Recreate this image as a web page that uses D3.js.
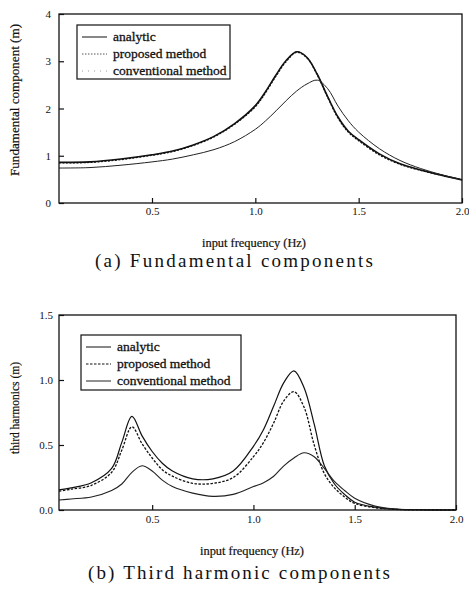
<!DOCTYPE html>
<meta charset="utf-8">
<style>
body { margin: 0; background: #fff; }
svg { display: block; }
text { font-family: "Liberation Serif", "DejaVu Serif", serif; fill: #111; }
.tick text { font-size: 11px; }
.legend text { font-size: 13.5px; stroke: #111; stroke-width: 0.3px; }
</style>
<script src="https://d3js.org/d3.v7.min.js"></script>
<div id="chart"></div>
<script>

// (a) fundamental components
var freqA = [0.05, 0.2, 0.35, 0.5, 0.6, 0.7, 0.8, 0.9, 1.0, 1.05, 1.1, 1.15, 1.2, 1.25, 1.3, 1.35, 1.4, 1.45, 1.5, 1.6, 1.7, 1.8, 1.9, 2.0];
var analyticA = [0.86, 0.87, 0.93, 1.02, 1.10, 1.23, 1.41, 1.68, 2.06, 2.36, 2.71, 3.02, 3.20, 3.08, 2.72, 2.25, 1.82, 1.52, 1.34, 1.04, 0.83, 0.70, 0.59, 0.49];
var proposedA = [0.85, 0.86, 0.92, 1.01, 1.09, 1.22, 1.40, 1.67, 2.04, 2.34, 2.69, 3.00, 3.19, 3.07, 2.71, 2.24, 1.80, 1.50, 1.32, 1.02, 0.82, 0.69, 0.59, 0.49];
var conventionalA = [0.74, 0.75, 0.80, 0.87, 0.93, 1.02, 1.13, 1.30, 1.56, 1.74, 1.95, 2.17, 2.37, 2.52, 2.60, 2.42, 2.05, 1.74, 1.50, 1.15, 0.90, 0.73, 0.60, 0.49];

// (b) third harmonic components
var freqB = [0.04, 0.1, 0.2, 0.3, 0.35, 0.4, 0.45, 0.5, 0.55, 0.6, 0.7, 0.8, 0.9, 1.0, 1.05, 1.1, 1.15, 1.2, 1.25, 1.3, 1.35, 1.4, 1.45, 1.5, 1.6, 1.7, 1.8, 2.0];
var analyticB = [0.155, 0.17, 0.21, 0.32, 0.52, 0.72, 0.57, 0.45, 0.36, 0.30, 0.24, 0.24, 0.30, 0.49, 0.62, 0.80, 0.98, 1.07, 0.94, 0.66, 0.34, 0.20, 0.12, 0.06, 0.022, 0.006, 0.002, 0];
var proposedB = [0.145, 0.16, 0.19, 0.29, 0.46, 0.64, 0.51, 0.40, 0.31, 0.26, 0.205, 0.205, 0.25, 0.41, 0.52, 0.67, 0.84, 0.91, 0.79, 0.50, 0.28, 0.17, 0.10, 0.05, 0.018, 0.005, 0.001, 0];
var conventionalB = [0.077, 0.085, 0.10, 0.15, 0.20, 0.29, 0.34, 0.30, 0.23, 0.18, 0.13, 0.105, 0.12, 0.18, 0.21, 0.26, 0.34, 0.40, 0.44, 0.41, 0.32, 0.22, 0.15, 0.09, 0.03, 0.008, 0.002, 0];

var legendNames = ["analytic", "proposed method", "conventional method"];
var xTicks = [0.5, 1.0, 1.5, 2.0];
var yTicksA = [0, 1, 2, 3, 4];
var yTicksB = [0, 0.5, 1.0, 1.5];

var svg = d3.select("#chart").append("svg")
  .attr("width", 469)
  .attr("height", 592);

// draws one panel
function panel(cfg) {
  var x = d3.scaleLinear().domain(cfg.xDomain).range([cfg.left, cfg.right]);
  var y = d3.scaleLinear().domain(cfg.yDomain).range([cfg.bottom, cfg.top]);

  var line = d3.line()
    .x(function(d) { return x(d[0]); })
    .y(function(d) { return Math.min(y(d[1]), cfg.bottom); })
    .curve(d3.curveCatmullRom.alpha(0.5));

  // curves (series are in legend order)
  cfg.series.forEach(function(s) {
    svg.append("path")
      .datum(d3.zip(cfg.freq, s.values))
      .attr("d", line)
      .attr("fill", "none")
      .attr("stroke", s.color)
      .attr("stroke-width", s.width)
      .attr("stroke-dasharray", s.dash);
  });

  // frame
  svg.append("rect")
    .attr("x", cfg.left).attr("y", cfg.top)
    .attr("width", cfg.right - cfg.left)
    .attr("height", cfg.bottom - cfg.top)
    .attr("fill", "none")
    .attr("stroke", "#111")
    .attr("stroke-width", 1.3);

  // axes, ticks pointing inward
  var gx = svg.append("g")
    .attr("transform", "translate(0," + cfg.bottom + ")")
    .call(d3.axisBottom(x).tickValues(xTicks).tickFormat(d3.format(".1f"))
      .tickSize(-5).tickPadding(cfg.xPad));
  var gy = svg.append("g")
    .attr("transform", "translate(" + cfg.left + ",0)")
    .call(d3.axisLeft(y).tickValues(cfg.yTicks).tickFormat(cfg.yFormat)
      .tickSize(-5).tickPadding(cfg.yPad));
  [gx, gy].forEach(function(g) {
    g.select(".domain").remove();
    g.selectAll(".tick line").attr("stroke", "#111").attr("stroke-width", 1.2);
    g.selectAll(".tick text").attr("font-family", null).attr("font-size", null);
  });

  // axis titles
  svg.append("text")
    .attr("x", cfg.xLabelX).attr("y", cfg.xLabelY)
    .attr("text-anchor", "middle")
    .attr("font-size", 11.5)
    .attr("stroke", "#111").attr("stroke-width", 0.2)
    .attr("textLength", 104)
    .attr("lengthAdjust", "spacingAndGlyphs")
    .text("input frequency (Hz)");

  svg.append("text")
    .attr("transform", "translate(" + cfg.yLabelX + "," + cfg.yLabelY + ") rotate(-90)")
    .attr("text-anchor", "middle")
    .attr("font-size", 11.5)
    .attr("stroke", "#111").attr("stroke-width", 0.2)
    .attr("textLength", cfg.yLabelLen)
    .attr("lengthAdjust", "spacingAndGlyphs")
    .text(cfg.yLabel);

  // caption
  svg.append("text")
    .attr("x", cfg.capX).attr("y", cfg.capY)
    .attr("text-anchor", "middle")
    .attr("font-size", 19)
    .attr("textLength", cfg.capLen)
    .attr("lengthAdjust", "spacing")
    .text(cfg.caption);

  // legend
  var lg = svg.append("g").attr("class", "legend");
  lg.append("rect")
    .attr("x", cfg.leg.x).attr("y", cfg.leg.y)
    .attr("width", cfg.leg.w).attr("height", cfg.leg.h)
    .attr("fill", "#fff")
    .attr("stroke", "#111")
    .attr("stroke-width", 1.2);
  lg.selectAll("line.key")
    .data(cfg.series)
    .enter().append("line")
      .attr("class", "key")
      .attr("x1", cfg.leg.x + 5)
      .attr("x2", cfg.leg.x + 30)
      .attr("y1", function(d, i) { return cfg.leg.y + 12 + i * 17; })
      .attr("y2", function(d, i) { return cfg.leg.y + 12 + i * 17; })
      .attr("stroke", function(d) { return d.keyColor || d.color; })
      .attr("stroke-width", 1)
      .attr("stroke-dasharray", function(d) { return d.keyDash || d.dash; });
  lg.selectAll("text")
    .data(legendNames)
    .enter().append("text")
      .attr("x", cfg.leg.x + 36)
      .attr("y", function(d, i) { return cfg.leg.y + 16 + i * 17; })
      .text(function(d) { return d; });
}

panel({
  freq: freqA,
  xDomain: [0.05, 2.0], yDomain: [0, 4],
  left: 59, right: 462, top: 14, bottom: 203,
  yTicks: yTicksA, yFormat: d3.format("d"),
  xPad: 4, yPad: 8,
  series: [
    {values: analyticA, color: "#111", width: 1.6, dash: null},
    {values: proposedA, color: "#111", width: 1.4, dash: "2,1.5", keyColor: "#555", keyDash: "1.5,1.5"},
    {values: conventionalA, color: "#222", width: 1, dash: null, keyColor: "#999", keyDash: "1,5"}
  ],
  xLabelX: 254, xLabelY: 247,
  yLabel: "Fundamental component (m)", yLabelX: 19, yLabelY: 100, yLabelLen: 152,
  caption: "(a) Fundamental components", capX: 234, capY: 267, capLen: 278,
  leg: {x: 77, y: 25, w: 153, h: 54}
});

panel({
  freq: freqB,
  xDomain: [0.04, 2.0], yDomain: [0, 1.5],
  left: 59, right: 456, top: 315, bottom: 510,
  yTicks: yTicksB, yFormat: d3.format(".1f"),
  xPad: 5, yPad: 6,
  series: [
    {values: analyticB, color: "#111", width: 1.2, dash: null},
    {values: proposedB, color: "#111", width: 1.3, dash: "2.5,1.5"},
    {values: conventionalB, color: "#222", width: 1.1, dash: null}
  ],
  xLabelX: 252, xLabelY: 555,
  yLabel: "third harmonics (m)", yLabelX: 19, yLabelY: 408, yLabelLen: 92,
  caption: "(b) Third harmonic components", capX: 239, capY: 579, capLen: 302,
  leg: {x: 81, y: 335, w: 160, h: 55}
});

</script>
